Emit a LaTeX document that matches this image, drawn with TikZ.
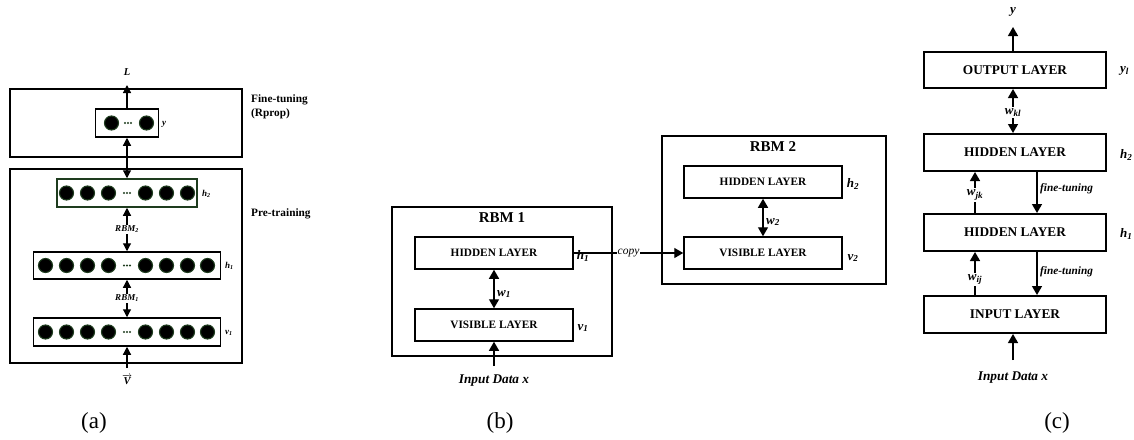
\documentclass[tikz,border=0pt]{standalone}
\usepackage{fontspec}
\setmainfont{Liberation Serif}
\usetikzlibrary{arrows.meta}
\definecolor{ngreen}{RGB}{30,60,30}
\begin{document}
\begin{tikzpicture}[x=1pt,y=-1pt,
  every node/.style={inner sep=0pt},
  outerbox/.style={draw, line width=1.5pt},
  layerbox/.style={draw, line width=1.5pt, font=\fontsize{11.3}{11.3}\selectfont\bfseries},
  bigbox/.style={draw, line width=2pt, minimum width=182pt, minimum height=37pt, font=\fontsize{13.3}{13.3}\selectfont\bfseries},
  arr/.style={line width=1.4pt,-{Triangle[length=9pt,width=10pt]}},
  darr/.style={line width=1.4pt,{Triangle[length=9pt,width=10pt]}-{Triangle[length=9pt,width=10pt]}},
  sarr/.style={line width=1.2pt,-{Triangle[length=8pt,width=8pt]}},
  sdarr/.style={line width=1.2pt,{Triangle[length=8pt,width=8pt]}-{Triangle[length=8pt,width=8pt]}},
  neuron/.style={circle, fill=black, draw=ngreen, line width=1.1pt, minimum size=14pt},
  tinylab/.style={font=\fontsize{9}{9}\selectfont\bfseries\itshape},
  lab/.style={font=\fontsize{13}{13}\selectfont\bfseries\itshape},
  mlab/.style={font=\fontsize{11.3}{11.3}\selectfont\bfseries\itshape},
  caption/.style={font=\fontsize{23}{23}\selectfont}
]
\useasboundingbox (0,0) rectangle (1134,439);

% ---------------- (a) ----------------
\node[outerbox, minimum width=232pt, minimum height=68pt] (fta) at (126,123) {};
\node[outerbox, minimum width=232pt, minimum height=194pt] (pta) at (126,266) {};
\node[layerbox, minimum width=63pt, minimum height=28pt] (ya) at (127,123) {};
\node[layerbox, draw=ngreen, minimum width=140pt, minimum height=28pt] (h2a) at (127,193) {};
\node[layerbox, minimum width=187pt, minimum height=27pt] (h1a) at (127,265.5) {};
\node[layerbox, minimum width=187pt, minimum height=28pt] (v1a) at (127,332) {};

\node[neuron] (yn1) at (111.5,123) {};
\node[neuron] (yn2) at (146.5,123) {};
\foreach \k in {-3,0,3} \fill[ngreen] (128+\k,123) circle (1.2pt);

\foreach \o [count=\i] in {-60.5,-39.5,-18.5,18.5,39.5,60.5}
  \node[neuron] (hb\i) at (127+\o,193) {};
\foreach \k in {-3,0,3} \fill[ngreen] (127+\k,193) circle (1.2pt);

\foreach \o [count=\i] in {-81.5,-60.5,-39.5,-18.5,18.5,39.5,60.5,80.5}
  \node[neuron] (ha\i) at (127+\o,265.5) {};
\foreach \k in {-3,0,3} \fill[ngreen] (127+\k,265.5) circle (1.2pt);

\foreach \o [count=\i] in {-81.5,-60.5,-39.5,-18.5,18.5,39.5,60.5,80.5}
  \node[neuron] (va\i) at (127+\o,332) {};
\foreach \k in {-3,0,3} \fill[ngreen] (127+\k,332) circle (1.2pt);

\coordinate (Ltip) at (127,85);
\draw[sarr] (ya.north) -- (Ltip);
\node[font=\fontsize{10.5}{10.5}\selectfont\bfseries\itshape] (La) at (127,72) {L};
\draw[sdarr] (ya.south) -- (h2a.north);
\draw[sdarr] (h2a.south) -- node[fill=white, inner sep=1.5pt, tinylab] (rbm2a) {RBM\textsubscript{2}} (h1a.north);
\draw[sdarr] (h1a.south) -- node[fill=white, inner sep=1.5pt, tinylab] (rbm1a) {RBM\textsubscript{1}} (v1a.north);
\coordinate (vin) at (127,368);
\draw[sarr] (vin) -- (v1a.south);
\node (Va) at (127,380) {$\overrightarrow{\hbox{\fontsize{10.5}{10.5}\selectfont\bfseries\itshape V}}$};

\node[tinylab, anchor=west] (yla) at (162,124) {y};
\node[tinylab, anchor=west] (h2la) at (202,194) {h\textsubscript{2}};
\node[tinylab, anchor=west] (h1la) at (225,266) {h\textsubscript{1}};
\node[tinylab, anchor=west] (v1la) at (225,333) {v\textsubscript{1}};

\node[anchor=west, align=left, font=\fontsize{11.3}{14.5}\selectfont\bfseries] (ftt) at (251,107) {Fine-tuning\\(Rprop)};
\node[anchor=west, font=\fontsize{11.3}{11.3}\selectfont\bfseries] (prt) at (251,214) {Pre-training};

\node[caption] (capa) at (94,423) {(a)};

% ---------------- (b) ----------------
\node[outerbox, minimum width=220pt, minimum height=149pt] (rbm1) at (502,281.5) {};
\node[font=\fontsize{15}{15}\selectfont\bfseries] (t1) at (502,218) {RBM 1};
\node[layerbox, minimum width=158pt, minimum height=32pt] (hid1) at (494,253) {HIDDEN LAYER};
\node[layerbox, minimum width=158pt, minimum height=32pt] (vis1) at (494,325) {VISIBLE LAYER};
\draw[darr] (hid1.south) -- (vis1.north);
\node[lab, anchor=west] (w1) at (497,294) {w\textsubscript{1}};
\coordinate (inb) at (494,366);
\draw[arr] (inb) -- (vis1.south);
\node[font=\fontsize{13.3}{13.3}\selectfont\bfseries\itshape] (idb) at (494,381) {Input Data x};

\node[outerbox, minimum width=224pt, minimum height=148pt] (rbm2) at (774,210) {};
\node[font=\fontsize{15}{15}\selectfont\bfseries] (t2) at (773,147) {RBM 2};
\node[layerbox, minimum width=158pt, minimum height=32pt] (hid2) at (763,182) {HIDDEN LAYER};
\node[layerbox, minimum width=158pt, minimum height=32pt] (vis2) at (763,253) {VISIBLE LAYER};
\draw[darr] (hid2.south) -- (vis2.north);
\node[lab, anchor=west] (w2) at (766,222) {w\textsubscript{2}};

\draw[arr] (hid1.east) -- node[pos=0.5, fill=white, inner sep=0.5pt, font=\fontsize{11.5}{11.5}\selectfont\itshape] (copy) {copy} (vis2.west);

\node[lab] (h1b) at (583,256) {h\textsubscript{1}};
\node[lab] (v1b) at (583,328) {v\textsubscript{1}};
\node[lab] (h2b) at (853,184) {h\textsubscript{2}};
\node[lab] (v2b) at (853,258) {v\textsubscript{2}};

\node[caption] (capb) at (500,423) {(b)};

% ---------------- (c) ----------------
\node[bigbox, minimum height=36pt] (outc) at (1015,70) {OUTPUT LAYER};
\node[bigbox] (hBc) at (1015,152.5) {HIDDEN LAYER};
\node[bigbox] (hAc) at (1015,232.5) {HIDDEN LAYER};
\node[bigbox] (inc) at (1015,314.5) {INPUT LAYER};

\coordinate (ytip) at (1013,27);
\coordinate (cm) at (1013,0);
\coordinate (cj) at (975,0);
\coordinate (cf) at (1037,0);
\draw[arr] (outc.north -| cm) -- (ytip);
\node[lab] (yc) at (1013,12) {y};
\draw[darr] (outc.south -| cm) -- node[pos=0.54, fill=white, inner sep=1.5pt, lab] (wkl) {w\textsubscript{kl}} (hBc.north -| cm);
\draw[arr] (hAc.north -| cj) -- node[pos=0.44, fill=white, inner sep=1.5pt, lab] (wjk) {w\textsubscript{jk}} (hBc.south -| cj);
\draw[arr] (hBc.south -| cf) -- (hAc.north -| cf);
\node[mlab, anchor=west] (ft1) at (1040,189) {fine-tuning};
\draw[arr] (inc.north -| cj) -- node[pos=0.36, fill=white, inner sep=1.5pt, lab] (wij) {w\textsubscript{ij}} (hAc.south -| cj);
\draw[arr] (hAc.south -| cf) -- (inc.north -| cf);
\node[mlab, anchor=west] (ft2) at (1040,272) {fine-tuning};
\coordinate (inc0) at (1013,360);
\draw[arr] (inc0) -- (inc.south -| cm);
\node[font=\fontsize{13.3}{13.3}\selectfont\bfseries\itshape] (idc) at (1013,378) {Input Data x};

\node[lab, anchor=west] (ylc) at (1120,71) {y\textsubscript{l}};
\node[lab, anchor=west] (h2c) at (1120,155) {h\textsubscript{2}};
\node[lab, anchor=west] (h1c) at (1120,234) {h\textsubscript{1}};

\node[caption] (capc) at (1057,423) {(c)};
\end{tikzpicture}
\end{document}
